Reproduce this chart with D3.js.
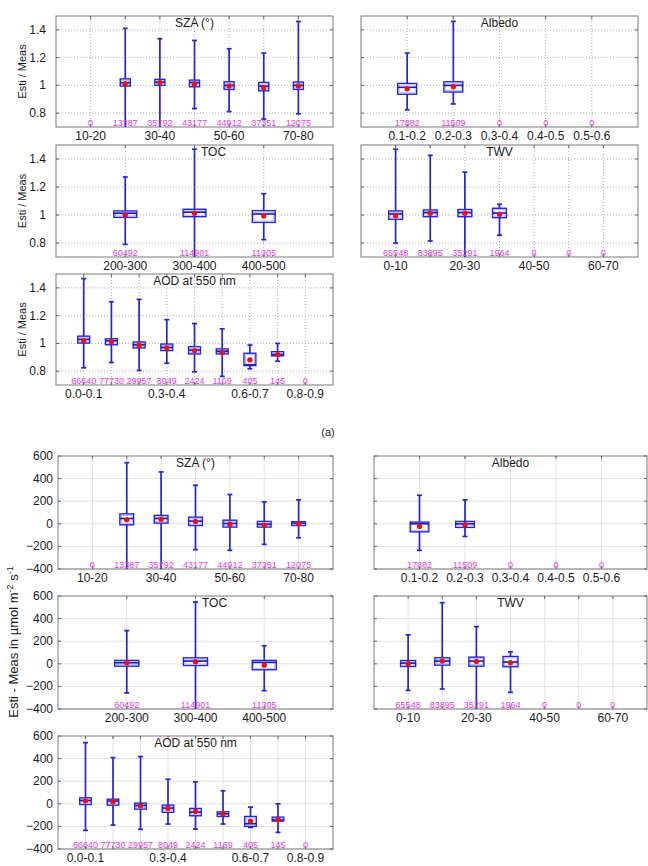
<!DOCTYPE html>
<html>
<head>
<meta charset="utf-8">
<script src="https://cdn.jsdelivr.net/npm/d3@7"></script>
<style>
  body { margin: 0; background: #fff; }
  svg { display: block; font-family: "Liberation Sans", Arial, sans-serif; }
</style>
</head>
<body>
<div id="chart"></div>
<script>
// ---- categories and shown tick labels ----
var szaCats = ["10-20", "20-30", "30-40", "40-50", "50-60", "60-70", "70-80"];
var szaTicks = ["10-20", "30-40", "50-60", "70-80"];
var albedoCats = ["0.1-0.2", "0.2-0.3", "0.3-0.4", "0.4-0.5", "0.5-0.6"];
var albedoTicks = albedoCats;
var tocCats = ["200-300", "300-400", "400-500"];
var tocTicks = tocCats;
var twvCats = ["0-10", "10-20", "20-30", "30-40", "40-50", "50-60", "60-70"];
var twvTicks = ["0-10", "20-30", "40-50", "60-70"];
var aodCats = ["0.0-0.1", "0.1-0.2", "0.2-0.3", "0.3-0.4", "0.4-0.5", "0.5-0.6", "0.6-0.7", "0.7-0.8", "0.8-0.9"];
var aodTicks = ["0.0-0.1", "0.3-0.4", "0.6-0.7", "0.8-0.9"];

// ---- sample counts ----
var szaCounts = [0, 13387, 35792, 43177, 44912, 37351, 12075];
var albedoCounts = [17882, 11509, 0, 0, 0];
var tocCounts = [60492, 114901, 11305];
var twvCounts = [65548, 83895, 35291, 1964, 0, 0, 0];
var aodCounts = [66640, 77730, 29957, 8049, 2424, 1169, 405, 145, 0];

// ---- box stats: [low whisker, q1, median, q3, high whisker, mean] ----
// (a) ratio Esti / Meas
var szaRatio = [null,
  [0.60, 0.995, 1.019, 1.047, 1.411, 1.012],
  [0.60, 1.000, 1.024, 1.043, 1.336, 1.020],
  [0.833, 0.990, 1.020, 1.038, 1.324, 1.010],
  [0.811, 0.971, 1.000, 1.026, 1.264, 0.995],
  [0.757, 0.961, 0.995, 1.021, 1.233, 0.985],
  [0.795, 0.971, 1.000, 1.024, 1.461, 0.995]];
var albedoRatio = [
  [0.824, 0.936, 0.986, 1.014, 1.233, 0.976],
  [0.866, 0.952, 1.000, 1.026, 1.461, 0.990],
  null, null, null];
var tocRatio = [
  [0.790, 0.983, 1.012, 1.029, 1.272, 1.000],
  [0.600, 0.988, 1.020, 1.041, 1.470, 1.012],
  [0.824, 0.947, 1.007, 1.031, 1.152, 0.993]];
var twvRatio = [
  [0.800, 0.969, 1.007, 1.029, 1.470, 0.995],
  [0.814, 0.988, 1.017, 1.036, 1.426, 1.012],
  [0.600, 0.988, 1.017, 1.039, 1.306, 1.012],
  [0.855, 0.981, 1.014, 1.048, 1.077, 1.005],
  null, null, null];
var aodRatio = [
  [0.824, 1.002, 1.029, 1.052, 1.467, 1.019],
  [0.862, 0.990, 1.019, 1.033, 1.300, 1.012],
  [0.805, 0.967, 0.990, 1.010, 1.317, 0.986],
  [0.857, 0.948, 0.971, 0.995, 1.171, 0.967],
  [0.795, 0.924, 0.952, 0.976, 1.143, 0.948],
  [0.762, 0.924, 0.943, 0.960, 1.105, 0.936],
  [0.817, 0.840, 0.845, 0.929, 0.988, 0.881],
  [0.871, 0.910, 0.919, 0.940, 1.000, 0.919],
  null];

// (b) difference Esti - Meas
var szaDiff = [null,
  [-480, -9, 47, 88, 541, 35],
  [-480, 6, 47, 74, 459, 41],
  [-229, -15, 24, 59, 341, 21],
  [-235, -29, 3, 32, 259, -3],
  [-182, -29, -3, 21, 194, -12],
  [-124, -15, 6, 18, 212, 0]];
var albedoDiff = [
  [-235, -71, 0, 15, 253, -24],
  [-112, -32, 0, 21, 212, -9],
  null, null, null];
var tocDiff = [
  [-258, -21, 9, 30, 294, 9],
  [-480, -15, 24, 53, 547, 18],
  [-238, -53, 12, 30, 160, -12]];
var twvDiff = [
  [-235, -24, 6, 29, 256, 0],
  [-223, -12, 24, 53, 541, 24],
  [-480, -21, 24, 59, 329, 21],
  [-253, -26, 15, 65, 106, 9],
  null, null, null];
var aodDiff = [
  [-235, -6, 29, 53, 541, 26],
  [-188, -12, 24, 41, 409, 18],
  [-226, -47, -15, 6, 418, -18],
  [-179, -76, -38, -12, 218, -41],
  [-224, -106, -74, -41, 194, -68],
  [-179, -112, -88, -71, 115, -88],
  [-209, -200, -176, -112, -29, -153],
  [-253, -153, -144, -118, 0, -141],
  null];

var ratioTicks = [0.8, 1, 1.2, 1.4];
var diffTicks = [-400, -200, 0, 200, 400, 600];

// ---- layout ----
var width = 648, height = 866;
var svg = d3.select('#chart').append('svg')
  .attr('width', width)
  .attr('height', height);

var blue = '#2424dc';
var magenta = '#e83ae8';
var clipId = 0;

var figA = {
  domain: [0.7, 1.5], ticks: ratioTicks, fmt: d3.format('~g'),
  dotted: true, labelGap: 10,
  panels: [
    {title: 'SZA (°)', cats: szaCats, shown: szaTicks, counts: szaCounts, stats: szaRatio, x: 56, y: 16, w: 277, h: 111, bw: 0.29, left: true},
    {title: 'Albedo', cats: albedoCats, shown: albedoTicks, counts: albedoCounts, stats: albedoRatio, x: 361, y: 16, w: 277, h: 111, bw: 0.41},
    {title: 'TOC', cats: tocCats, shown: tocTicks, counts: tocCounts, stats: tocRatio, x: 56, y: 145, w: 277, h: 112, bw: 0.33, left: true, titleDx: 19},
    {title: 'TWV', cats: twvCats, shown: twvTicks, counts: twvCounts, stats: twvRatio, x: 361, y: 145, w: 277, h: 112, bw: 0.4},
    {title: 'AOD at 550 nm', cats: aodCats, shown: aodTicks, counts: aodCounts, stats: aodRatio, x: 56, y: 274, w: 277, h: 111, bw: 0.43, left: true}
  ]
};

var figB = {
  domain: [-400, 600], ticks: diffTicks, fmt: d3.format('d'),
  dotted: false, labelGap: 5,
  panels: [
    {title: 'SZA (°)', cats: szaCats, shown: szaTicks, counts: szaCounts, stats: szaDiff, x: 58, y: 456, w: 275, h: 113, bw: 0.4, left: true},
    {title: 'Albedo', cats: albedoCats, shown: albedoTicks, counts: albedoCounts, stats: albedoDiff, x: 374, y: 456, w: 273, h: 113, bw: 0.41},
    {title: 'TOC', cats: tocCats, shown: tocTicks, counts: tocCounts, stats: tocDiff, x: 58, y: 596, w: 275, h: 113, bw: 0.35, left: true, titleDx: 19},
    {title: 'TWV', cats: twvCats, shown: twvTicks, counts: twvCounts, stats: twvDiff, x: 374, y: 596, w: 273, h: 113, bw: 0.44},
    {title: 'AOD at 550 nm', cats: aodCats, shown: aodTicks, counts: aodCounts, stats: aodDiff, x: 58, y: 736, w: 275, h: 113, bw: 0.42, left: true}
  ]
};

function drawPanel(fig, p) {
  var x = d3.scalePoint().domain(p.cats).range([p.x, p.x + p.w]).padding(1);
  var y = d3.scaleLinear().domain(fig.domain).range([p.y + p.h, p.y]);
  var g = svg.append('g');

  var id = 'clip' + (clipId++);
  svg.append('clipPath').attr('id', id)
    .append('rect').attr('x', p.x).attr('y', p.y).attr('width', p.w).attr('height', p.h);

  // grid
  var gridColor = fig.dotted ? '#b0b0b0' : '#e2e2e2';
  var dash = fig.dotted ? '1,2' : null;
  g.selectAll('.hg').data(fig.ticks.filter(function(t) { return t < fig.domain[1]; }))
    .enter().append('line')
    .attr('x1', p.x).attr('x2', p.x + p.w)
    .attr('y1', function(d) { return y(d); }).attr('y2', function(d) { return y(d); })
    .attr('stroke', gridColor).attr('stroke-dasharray', dash);
  g.selectAll('.vg').data(p.cats).enter().append('line')
    .attr('x1', function(d) { return x(d); }).attr('x2', function(d) { return x(d); })
    .attr('y1', p.y).attr('y2', p.y + p.h)
    .attr('stroke', gridColor).attr('stroke-dasharray', dash);

  // frame
  g.append('rect').attr('x', p.x).attr('y', p.y).attr('width', p.w).attr('height', p.h)
    .attr('fill', 'none').attr('stroke', '#7a7a7a');

  // inward ticks
  fig.ticks.forEach(function(t) {
    g.append('line').attr('x1', p.x).attr('x2', p.x + 3).attr('y1', y(t)).attr('y2', y(t)).attr('stroke', '#606060');
    g.append('line').attr('x1', p.x + p.w - 3).attr('x2', p.x + p.w).attr('y1', y(t)).attr('y2', y(t)).attr('stroke', '#606060');
  });
  p.cats.forEach(function(c) {
    g.append('line').attr('x1', x(c)).attr('x2', x(c)).attr('y1', p.y).attr('y2', p.y + 3).attr('stroke', '#606060');
    g.append('line').attr('x1', x(c)).attr('x2', x(c)).attr('y1', p.y + p.h - 3).attr('y2', p.y + p.h).attr('stroke', '#606060');
  });

  // y tick labels
  if (p.left) {
    g.selectAll('.yl').data(fig.ticks).enter().append('text')
      .attr('x', p.x - fig.labelGap)
      .attr('y', function(d) { return y(d) + 4; })
      .attr('text-anchor', 'end')
      .attr('font-size', 12)
      .attr('fill', '#1a1a1a')
      .text(function(d) { return fig.fmt(d); });
  }

  // x tick labels
  g.selectAll('.xl').data(p.shown).enter().append('text')
    .attr('x', function(d) { return x(d); })
    .attr('y', p.y + p.h + 13)
    .attr('text-anchor', 'middle')
    .attr('font-size', 12)
    .attr('fill', '#1a1a1a')
    .text(function(d) { return d; });

  // title
  g.append('text')
    .attr('x', p.x + p.w / 2 + (p.titleDx || 0))
    .attr('y', p.y + 11)
    .attr('text-anchor', 'middle')
    .attr('font-size', 12)
    .attr('fill', '#1a1a1a')
    .text(p.title);

  // boxes
  var bw = x.step() * p.bw;
  var boxes = g.append('g').attr('clip-path', 'url(#' + id + ')')
    .selectAll('g').data(p.cats.map(function(c, i) { return {c: c, s: p.stats[i]}; })
      .filter(function(d) { return d.s; }))
    .enter().append('g');

  boxes.append('line')
    .attr('x1', function(d) { return x(d.c); }).attr('x2', function(d) { return x(d.c); })
    .attr('y1', function(d) { return y(d.s[3]); }).attr('y2', function(d) { return y(d.s[4]); })
    .attr('stroke', blue).attr('stroke-width', 1.7);
  boxes.append('line')
    .attr('x1', function(d) { return x(d.c); }).attr('x2', function(d) { return x(d.c); })
    .attr('y1', function(d) { return y(d.s[1]); }).attr('y2', function(d) { return y(d.s[0]); })
    .attr('stroke', blue).attr('stroke-width', 1.7);
  [0, 4].forEach(function(k) {
    boxes.append('line')
      .attr('x1', function(d) { return x(d.c) - 2.5; }).attr('x2', function(d) { return x(d.c) + 2.5; })
      .attr('y1', function(d) { return y(d.s[k]); }).attr('y2', function(d) { return y(d.s[k]); })
      .attr('stroke', blue).attr('stroke-width', 1.7);
  });
  boxes.append('rect')
    .attr('x', function(d) { return x(d.c) - bw / 2; })
    .attr('y', function(d) { return y(d.s[3]); })
    .attr('width', bw)
    .attr('height', function(d) { return y(d.s[1]) - y(d.s[3]); })
    .attr('fill', '#fff').attr('stroke', blue).attr('stroke-width', 1.4);
  boxes.append('rect')
    .attr('x', function(d) { return x(d.c) - bw / 2 + 1.5; })
    .attr('y', function(d) { return y(d.s[3]) + 1.5; })
    .attr('width', bw - 3)
    .attr('height', function(d) { return Math.max(0, y(d.s[1]) - y(d.s[3]) - 3); })
    .attr('fill', 'none').attr('stroke', '#a8a8f0').attr('stroke-width', 0.8);
  boxes.append('line')
    .attr('x1', function(d) { return x(d.c) - bw / 2; }).attr('x2', function(d) { return x(d.c) + bw / 2; })
    .attr('y1', function(d) { return y(d.s[2]); }).attr('y2', function(d) { return y(d.s[2]); })
    .attr('stroke', '#1a1ab0').attr('stroke-width', 1.6);
  boxes.append('circle')
    .attr('cx', function(d) { return x(d.c); })
    .attr('cy', function(d) { return y(d.s[5]); })
    .attr('r', 2.7)
    .attr('fill', '#e8101a');

  // counts
  g.selectAll('.cn').data(p.cats).enter().append('text')
    .attr('x', function(d) { return x(d); })
    .attr('y', p.y + p.h - 1)
    .attr('text-anchor', 'middle')
    .attr('font-size', 9)
    .attr('fill', magenta)
    .text(function(d, i) { return p.counts[i]; });

  // y axis title for (a)
  if (p.left && fig.dotted) {
    svg.append('text')
      .attr('transform', 'translate(26,' + (p.y + p.h / 2) + ') rotate(-90)')
      .attr('text-anchor', 'middle')
      .attr('font-size', 11)
      .attr('fill', '#1a1a1a')
      .text('Esti / Meas');
  }
}

figA.panels.forEach(function(p) { drawPanel(figA, p); });
figB.panels.forEach(function(p) { drawPanel(figB, p); });

// (a) caption
svg.append('text')
  .attr('x', 328).attr('y', 436)
  .attr('text-anchor', 'middle')
  .attr('font-size', 11)
  .attr('fill', '#222')
  .text('(a)');

// y axis title for (b)
var yt = svg.append('text')
  .attr('transform', 'translate(18,642) rotate(-90)')
  .attr('text-anchor', 'middle')
  .attr('font-size', 13)
  .attr('fill', '#1a1a1a');
yt.append('tspan').text('Esti - Meas in µmol m');
yt.append('tspan').attr('dy', -5).attr('font-size', 9).text('-2');
yt.append('tspan').attr('dy', 5).text(' s');
yt.append('tspan').attr('dy', -5).attr('font-size', 9).text('-1');
</script>
</body>
</html>
